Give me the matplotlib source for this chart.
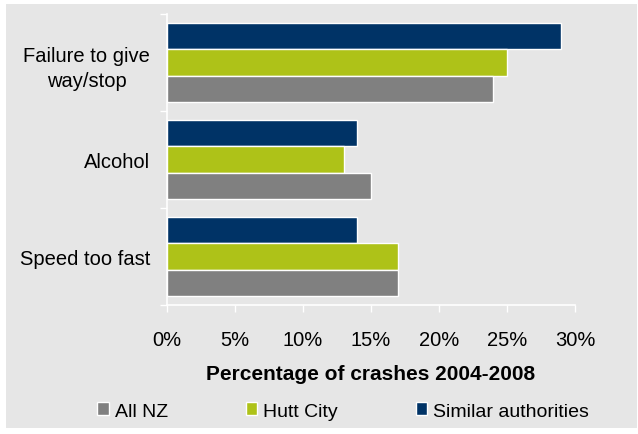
import numpy as np
import matplotlib.pyplot as plt
from matplotlib.patches import Rectangle
from matplotlib.ticker import FuncFormatter

plt.rcParams['font.family'] = ['Liberation Sans', 'DejaVu Sans']

# data, categories listed top to bottom
categories = ['Failure to give\nway/stop', 'Alcohol', 'Speed too fast']
similar = [29, 14, 14]
hutt = [25, 13, 17]
all_nz = [24, 15, 17]

navy = '#003366'
green = '#aec218'
grey = '#808080'
bg = '#e6e6e6'

fig = plt.figure(figsize=(6.38, 4.35), dpi=100)
fig.patch.set_facecolor('white')
fig.patches.append(Rectangle((6/638, 6/435), 631/638, 424/435, transform=fig.transFigure,
                             facecolor=bg, edgecolor='none', zorder=-10))

ax = fig.add_axes([167/638, 1 - 306/435, 408/638, 291/435])
ax.set_facecolor(bg)

y = np.arange(len(categories))
h = 0.27
b1 = ax.barh(y - h, similar, h, color=navy, edgecolor='white', linewidth=1, label='Similar authorities')
b2 = ax.barh(y, hutt, h, color=green, edgecolor='white', linewidth=1, label='Hutt City')
b3 = ax.barh(y + h, all_nz, h, color=grey, edgecolor='white', linewidth=1, label='All NZ')

ax.set_ylim(len(categories) - 0.5, -0.5)
ax.set_xlim(0, 30)
ax.set_xticks(np.arange(0, 31, 5))
ax.xaxis.set_major_formatter(FuncFormatter(lambda v, p: '%d%%' % v))

ax.set_yticks(y)
ax.set_yticklabels(categories)
for t in ax.get_yticklabels():
    t.set_multialignment('center')
    t.set_linespacing(1.45)
ax.set_yticks(np.arange(-0.5, len(categories), 1), minor=True)
ax.tick_params(axis='y', which='major', length=0, pad=12, labelsize=14.5)
ax.tick_params(axis='y', which='minor', length=5, color='white', width=1, direction='out')
ax.tick_params(axis='x', length=5, color='white', width=1, direction='out', pad=13, labelsize=14.5)

for s in ['top', 'right']:
    ax.spines[s].set_visible(False)
for s in ['left', 'bottom']:
    ax.spines[s].set_color('white')
    ax.spines[s].set_linewidth(1.2)

ax.set_xlabel('Percentage of crashes 2004-2008', fontsize=15, fontweight='bold', labelpad=10.5)

fig.legend(handles=[b3, b2, b1], labels=['All NZ', 'Hutt City', 'Similar authorities'],
           loc='center', bbox_to_anchor=(0.538, 1 - 412/435), ncol=3, frameon=False,
           fontsize=14, handlelength=0.6, handleheight=0.6, handletextpad=0.3, columnspacing=4)

fig.savefig('out.png', dpi=100)
